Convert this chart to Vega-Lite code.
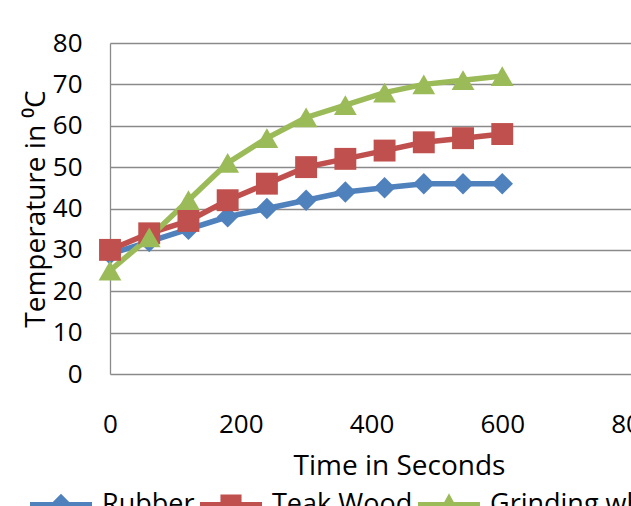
{
  "$schema": "https://vega.github.io/schema/vega-lite/v6.json",
  "autosize": {"type": "none"},
  "width": 523,
  "height": 331,
  "padding": {"left": 110, "top": 43, "right": 0, "bottom": 132},
  "background": "white",
  "config": {
    "font": "Open Sans",
    "view": {"stroke": null},
    "axis": {"labelFont": "Open Sans", "titleFont": "Open Sans", "labelColor": "#000", "titleColor": "#000", "titleFontWeight": "normal"}
  },
  "data": {"values": [
    {"t": 0, "temp": 29, "series": "Rubber"},
    {"t": 60, "temp": 32, "series": "Rubber"},
    {"t": 120, "temp": 35, "series": "Rubber"},
    {"t": 180, "temp": 38, "series": "Rubber"},
    {"t": 240, "temp": 40, "series": "Rubber"},
    {"t": 300, "temp": 42, "series": "Rubber"},
    {"t": 360, "temp": 44, "series": "Rubber"},
    {"t": 420, "temp": 45, "series": "Rubber"},
    {"t": 480, "temp": 46, "series": "Rubber"},
    {"t": 540, "temp": 46, "series": "Rubber"},
    {"t": 600, "temp": 46, "series": "Rubber"},
    {"t": 0, "temp": 30, "series": "Teak Wood"},
    {"t": 60, "temp": 34, "series": "Teak Wood"},
    {"t": 120, "temp": 37, "series": "Teak Wood"},
    {"t": 180, "temp": 42, "series": "Teak Wood"},
    {"t": 240, "temp": 46, "series": "Teak Wood"},
    {"t": 300, "temp": 50, "series": "Teak Wood"},
    {"t": 360, "temp": 52, "series": "Teak Wood"},
    {"t": 420, "temp": 54, "series": "Teak Wood"},
    {"t": 480, "temp": 56, "series": "Teak Wood"},
    {"t": 540, "temp": 57, "series": "Teak Wood"},
    {"t": 600, "temp": 58, "series": "Teak Wood"},
    {"t": 0, "temp": 25, "series": "Grinding wheel"},
    {"t": 60, "temp": 33, "series": "Grinding wheel"},
    {"t": 120, "temp": 42, "series": "Grinding wheel"},
    {"t": 180, "temp": 51, "series": "Grinding wheel"},
    {"t": 240, "temp": 57, "series": "Grinding wheel"},
    {"t": 300, "temp": 62, "series": "Grinding wheel"},
    {"t": 360, "temp": 65, "series": "Grinding wheel"},
    {"t": 420, "temp": 68, "series": "Grinding wheel"},
    {"t": 480, "temp": 70, "series": "Grinding wheel"},
    {"t": 540, "temp": 71, "series": "Grinding wheel"},
    {"t": 600, "temp": 72, "series": "Grinding wheel"}
  ]},
  "encoding": {
    "x": {"field": "t", "type": "quantitative",
      "scale": {"domain": [0, 800], "nice": false, "zero": false},
      "axis": {"title": "Time in Seconds", "values": [0, 200, 400, 600, 800], "grid": false, "domain": false, "ticks": false, "tickSize": 0,
        "labelFontSize": 26, "labelPadding": 37, "titleFontSize": 28, "titlePadding": 15, "titleX": 289, "labelFlush": false}},
    "y": {"field": "temp", "type": "quantitative",
      "scale": {"domain": [0, 80], "nice": false},
      "axis": {"title": "Temperature in ⁰C", "values": [0, 10, 20, 30, 40, 50, 60, 70, 80], "grid": true, "gridColor": "#8a8a8a", "gridWidth": 1.3,
        "domain": true, "domainColor": "#8a8a8a", "domainWidth": 1.3, "ticks": false, "tickSize": 0,
        "labelFontSize": 26, "labelPadding": 28, "titleFontSize": 28, "titlePadding": 2}}
  },
  "layer": [
    {
      "mark": {"type": "line", "strokeWidth": 5.5},
      "encoding": {
        "color": {"field": "series", "type": "nominal",
          "scale": {"domain": ["Rubber", "Teak Wood", "Grinding wheel"], "range": ["#4F81BD", "#C0504D", "#9BBB59"]},
          "legend": null}
      }
    },
    {
      "transform": [{"filter": "datum.series === 'Rubber'"}],
      "mark": {"type": "point", "filled": true, "opacity": 1, "size": 460, "strokeWidth": 0, "shape": "diamond", "color": "#4F81BD"}
    },
    {
      "transform": [{"filter": "datum.series === 'Teak Wood'"}],
      "mark": {"type": "point", "filled": true, "opacity": 1, "size": 480, "strokeWidth": 0, "shape": "square", "color": "#C0504D"}
    },
    {
      "transform": [{"filter": "datum.series === 'Grinding wheel'"}],
      "mark": {"type": "point", "filled": true, "opacity": 1, "size": 520, "strokeWidth": 0, "shape": "triangle-up", "color": "#9BBB59"}
    },
    {
      "mark": {"type": "point", "filled": true, "opacity": 0,
        "color": {"expr": "datum.value ? scale('color', datum.value) : 'transparent'"},
        "fill": {"expr": "datum.value ? scale('color', datum.value) : 'transparent'"}},
      "encoding": {
        "shape": {"field": "series", "type": "nominal",
          "scale": {"domain": ["Rubber", "Teak Wood", "Grinding wheel"],
            "range": ["M-1,-0.097H1V0.097H-1Z M0,-0.36L0.36,0L0,0.36L-0.36,0Z", "M-1,-0.097H1V0.097H-1Z M-0.34,-0.34H0.34V0.34H-0.34Z", "M-1,-0.097H1V0.097H-1Z M0,-0.38L0.38,0.32H-0.38Z"]},
          "legend": {"title": null, "orient": "none", "legendX": -80, "legendY": 431, "direction": "horizontal",
            "symbolSize": 3844, "symbolStrokeWidth": 0, "symbolOpacity": 1, "labelFontSize": 27, "labelFont": "Open Sans", "labelColor": "#000",
            "labelOffset": 10, "columnPadding": 5, "labelLimit": 400, "padding": 0}}
      }
    }
  ],
  "resolve": {"scale": {"shape": "independent"}}
}
